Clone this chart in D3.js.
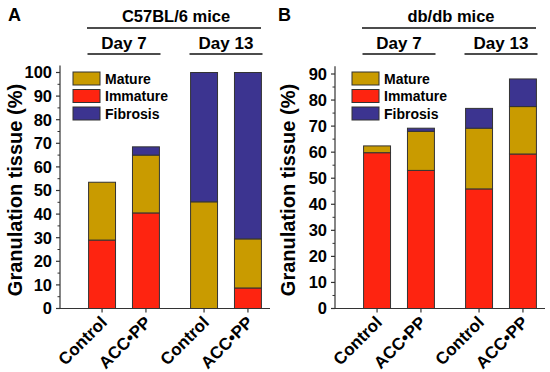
<!DOCTYPE html>
<html>
<head>
<meta charset="utf-8">
<script src="https://cdn.jsdelivr.net/npm/d3@7"></script>
<style>
  body { margin: 0; background: #fff; }
  svg { font-family: "Liberation Sans", Arial, sans-serif; font-weight: bold; }
</style>
</head>
<body>
<div id="chart"></div>
<script>
// ---- data ----
const days = ["Day 7", "Day 13"];
const groups = ["Control", "ACC\u2022PP"];
const layers = ["Immature", "Mature", "Fibrosis"];
const legendOrder = ["Mature", "Immature", "Fibrosis"];

// values per bar: [Day7 Control, Day7 ACC•PP, Day13 Control, Day13 ACC•PP]
const immatureA = [29, 40.5, 0, 8.7];
const matureA = [24.5, 24.5, 45.2, 20.8];
const fibrosisA = [0, 3.5, 54.8, 70.5];

const immatureB = [59.8, 53, 45.9, 59.3];
const matureB = [2.6, 15, 23.3, 18.2];
const fibrosisB = [0, 1.2, 7.6, 10.6];

const ticksA = [0, 10, 20, 30, 40, 50, 60, 70, 80, 90, 100];
const ticksB = [0, 10, 20, 30, 40, 50, 60, 70, 80, 90];

const colors = { Mature: "#c99b00", Immature: "#fe2410", Fibrosis: "#3c3490" };

const W = 550, H = 372;
const svg = d3.select("#chart").append("svg")
    .attr("width", W)
    .attr("height", H);

function drawPanel(opt) {
    const g = svg.append("g").attr("transform", `translate(${opt.dx},0)`);
    const axisX = 60;
    const bottom = 308.5;

    // y scale
    const y = d3.scaleLinear().domain([0, opt.yMax]).range([bottom, opt.yTopPx]);
    const yTop = y(opt.axisMax);

    // bar positions: outer band per day, inner band per treatment
    const outer = d3.scaleBand().domain(days).range([axisX + 13, axisX + 217]);
    const inner = d3.scaleBand().domain(groups).range([0, outer.bandwidth()])
        .paddingInner(0.386).paddingOuter(0.355);

    const rows = [];
    days.forEach((day, di) => {
        groups.forEach((grp, gi) => {
            const i = di * 2 + gi;
            rows.push({
                day: day, grp: grp,
                Immature: opt.immature[i], Mature: opt.mature[i], Fibrosis: opt.fibrosis[i]
            });
        });
    });
    const stacked = d3.stack().keys(layers)(rows);

    // bars
    stacked.forEach(layer => {
        g.append("g").selectAll("rect")
            .data(layer.filter(d => d[1] - d[0] > 0))
            .enter().append("rect")
            .attr("x", d => outer(d.data.day) + inner(d.data.grp))
            .attr("width", inner.bandwidth())
            .attr("y", d => y(d[1]))
            .attr("height", d => y(d[0]) - y(d[1]))
            .attr("fill", colors[layer.key])
            .attr("stroke", "#333")
            .attr("stroke-width", 1);
    });

    // y axis
    const yAxis = g.append("g").attr("transform", `translate(${axisX},0)`);
    yAxis.append("line")
        .attr("y1", yTop).attr("y2", bottom)
        .attr("stroke", "#333").attr("stroke-width", 1.2);
    yAxis.selectAll(".major").data(opt.ticks).enter().append("line")
        .attr("x1", -4).attr("x2", 0)
        .attr("y1", d => y(d)).attr("y2", d => y(d))
        .attr("stroke", "#333").attr("stroke-width", 1.2);
    yAxis.selectAll(".minor").data(opt.ticks.slice(0, -1).map(d => d + 5)).enter().append("line")
        .attr("x1", -2.5).attr("x2", 0)
        .attr("y1", d => y(d)).attr("y2", d => y(d))
        .attr("stroke", "#333").attr("stroke-width", 1);
    yAxis.selectAll("text").data(opt.ticks).enter().append("text")
        .attr("x", -8)
        .attr("y", d => y(d))
        .attr("dy", "0.36em")
        .attr("text-anchor", "end")
        .style("font-size", "16.5px")
        .text(d => d);

    // y label
    g.append("text")
        .attr("transform", `translate(${opt.labX},190) rotate(-90)`)
        .attr("text-anchor", "middle")
        .style("font-size", "20px")
        .text("Granulation tissue (%)");

    // x axis
    g.append("line")
        .attr("x1", axisX).attr("x2", axisX + 210)
        .attr("y1", bottom).attr("y2", bottom)
        .attr("stroke", "#333").attr("stroke-width", 1.2);
    rows.forEach(r => {
        const cx = outer(r.day) + inner(r.grp) + inner.bandwidth() / 2;
        g.append("line")
            .attr("x1", cx).attr("x2", cx)
            .attr("y1", bottom).attr("y2", bottom + 4)
            .attr("stroke", "#333").attr("stroke-width", 1.2);
        g.append("text")
            .attr("transform", `translate(${cx + 6},${bottom + 15}) rotate(-45)`)
            .attr("text-anchor", "end")
            .style("font-size", "17px")
            .text(r.grp);
    });

    // group headers
    days.forEach(day => {
        const c = outer(day) + outer.bandwidth() / 2;
        g.append("text")
            .attr("x", c).attr("y", 49)
            .attr("text-anchor", "middle")
            .style("font-size", "17px")
            .text(day);
        g.append("line")
            .attr("x1", c - 36.5).attr("x2", c + 36.5)
            .attr("y1", 54).attr("y2", 54)
            .attr("stroke", "#111").attr("stroke-width", 1.3);
    });
    g.append("text")
        .attr("x", axisX + 116).attr("y", 22)
        .attr("text-anchor", "middle")
        .style("font-size", "16.5px")
        .text(opt.title);
    g.append("line")
        .attr("x1", axisX + 27).attr("x2", axisX + 201)
        .attr("y1", 28).attr("y2", 28)
        .attr("stroke", "#111").attr("stroke-width", 1.3);

    // panel letter
    g.append("text")
        .attr("x", opt.letX).attr("y", 21)
        .style("font-size", "18px")
        .text(opt.letter);

    // legend
    const leg = g.append("g").attr("transform", `translate(${axisX + opt.legDx},72)`);
    legendOrder.forEach((k, i) => {
        leg.append("rect")
            .attr("x", 0).attr("y", i * 17.5)
            .attr("width", 27).attr("height", 13)
            .attr("fill", colors[k])
            .attr("stroke", "#333").attr("stroke-width", 1);
        leg.append("text")
            .attr("x", 32).attr("y", i * 17.5 + 6.5)
            .attr("dy", "0.36em")
            .style("font-size", "14px")
            .text(k);
    });
}

drawPanel({
    dx: 0, letter: "A", title: "C57BL/6 mice", letX: 8, labX: 22,
    immature: immatureA, mature: matureA, fibrosis: fibrosisA,
    ticks: ticksA, yMax: 100, yTopPx: 72.5, axisMax: 103,
    legDx: 13
});
drawPanel({
    dx: 275, letter: "B", title: "db/db mice", letX: 3, labX: 20,
    immature: immatureB, mature: matureB, fibrosis: fibrosisB,
    ticks: ticksB, yMax: 90, yTopPx: 74, axisMax: 93,
    legDx: 17
});
</script>
</body>
</html>
